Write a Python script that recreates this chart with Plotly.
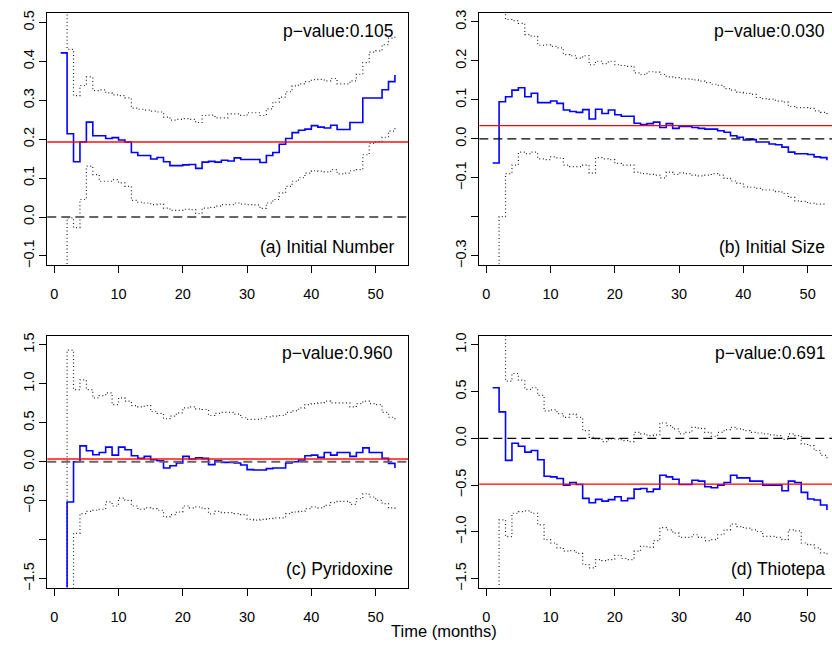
import plotly.graph_objects as go

# ---------------- data ----------------
months = list(range(1, 54))
x_ticks = [0, 10, 20, 30, 40, 50]

panel_titles = ["(a) Initial Number", "(b) Initial Size", "(c) Pyridoxine", "(d) Thiotepa"]
p_values = ["p\u2212value:0.105", "p\u2212value:0.030", "p\u2212value:0.960", "p\u2212value:0.691"]
const_est = [0.193, 0.034, 0.034, -0.490]

number_est = [0.422, 0.214, 0.142, 0.193, 0.244, 0.209, 0.209, 0.202, 0.204, 0.198,
              0.193, 0.166, 0.158, 0.158, 0.149, 0.153, 0.142, 0.132, 0.132, 0.134,
              0.135, 0.125, 0.141, 0.143, 0.141, 0.146, 0.144, 0.152, 0.148, 0.148,
              0.148, 0.140, 0.158, 0.166, 0.187, 0.202, 0.217, 0.223, 0.226, 0.235,
              0.231, 0.229, 0.236, 0.225, 0.225, 0.243, 0.243, 0.306, 0.306, 0.306,
              0.327, 0.348, 0.365]
number_upper = [0.8, 0.431, 0.312, 0.338, 0.360, 0.325, 0.327, 0.319, 0.314, 0.312,
                0.306, 0.280, 0.277, 0.275, 0.272, 0.270, 0.257, 0.249, 0.251, 0.253,
                0.251, 0.243, 0.261, 0.262, 0.255, 0.255, 0.265, 0.265, 0.261, 0.268,
                0.268, 0.261, 0.278, 0.295, 0.308, 0.322, 0.337, 0.342, 0.348, 0.353,
                0.354, 0.350, 0.356, 0.342, 0.342, 0.350, 0.367, 0.397, 0.424, 0.427,
                0.443, 0.460, 0.467]
number_lower = [-0.4, -0.002, -0.027, 0.045, 0.131, 0.109, 0.092, 0.092, 0.096, 0.088,
                0.079, 0.043, 0.038, 0.036, 0.032, 0.033, 0.023, 0.017, 0.017, 0.020,
                0.019, 0.009, 0.023, 0.025, 0.028, 0.032, 0.032, 0.036, 0.033, 0.032,
                0.031, 0.022, 0.036, 0.045, 0.062, 0.079, 0.092, 0.101, 0.113, 0.119,
                0.118, 0.116, 0.122, 0.111, 0.113, 0.119, 0.122, 0.160, 0.189, 0.193,
                0.205, 0.221, 0.232]

size_est = [-0.062, 0.095, 0.108, 0.125, 0.131, 0.108, 0.117, 0.093, 0.093, 0.097,
            0.091, 0.074, 0.070, 0.068, 0.075, 0.051, 0.076, 0.065, 0.074, 0.062,
            0.058, 0.058, 0.040, 0.037, 0.039, 0.043, 0.029, 0.039, 0.027, 0.032,
            0.032, 0.029, 0.027, 0.025, 0.025, 0.021, 0.017, 0.008, 0.004, -0.003,
            -0.002, -0.008, -0.008, -0.013, -0.015, -0.021, -0.034, -0.038, -0.038, -0.040,
            -0.046, -0.048, -0.055]
size_upper = [0.6, 0.45, 0.306, 0.303, 0.296, 0.267, 0.263, 0.240, 0.241, 0.237,
              0.233, 0.216, 0.213, 0.207, 0.213, 0.190, 0.199, 0.193, 0.199, 0.190,
              0.188, 0.186, 0.169, 0.165, 0.172, 0.171, 0.165, 0.159, 0.157, 0.154,
              0.154, 0.151, 0.148, 0.144, 0.140, 0.137, 0.129, 0.125, 0.119, 0.117,
              0.114, 0.106, 0.103, 0.102, 0.097, 0.094, 0.083, 0.080, 0.080, 0.078,
              0.072, 0.068, 0.063]
size_lower = [-0.6, -0.199, -0.089, -0.067, -0.034, -0.038, -0.034, -0.051, -0.053, -0.046,
              -0.049, -0.067, -0.071, -0.071, -0.067, -0.088, -0.048, -0.051, -0.053, -0.063,
              -0.067, -0.067, -0.085, -0.089, -0.091, -0.093, -0.100, -0.085, -0.091, -0.087,
              -0.089, -0.093, -0.095, -0.093, -0.089, -0.093, -0.101, -0.108, -0.114, -0.123,
              -0.124, -0.127, -0.131, -0.131, -0.135, -0.140, -0.150, -0.159, -0.160, -0.165,
              -0.167, -0.167, -0.167]

pyridoxine_est = [-3.0, -0.516, 0.000, 0.203, 0.140, 0.089, 0.118, 0.187, 0.085, 0.187,
                  0.153, 0.077, 0.043, 0.068, 0.026, 0.013, -0.081, -0.051, -0.017, 0.068,
                  0.034, 0.051, 0.043, -0.038, 0.013, -0.008, -0.008, -0.017, -0.042, -0.102,
                  -0.106, -0.106, -0.089, -0.081, -0.081, -0.017, 0.000, 0.021, 0.077, 0.085,
                  0.055, 0.118, 0.085, 0.118, 0.118, 0.068, 0.118, 0.178, 0.118, 0.118,
                  0.043, -0.021, -0.081]
pyridoxine_upper = [-1.8, 1.432, 0.924, 1.051, 0.924, 0.818, 0.848, 0.882, 0.733, 0.818,
                    0.776, 0.720, 0.703, 0.720, 0.644, 0.619, 0.551, 0.585, 0.627, 0.690,
                    0.703, 0.678, 0.670, 0.593, 0.620, 0.632, 0.632, 0.610, 0.564, 0.542,
                    0.542, 0.551, 0.576, 0.585, 0.593, 0.632, 0.653, 0.690, 0.733, 0.746,
                    0.754, 0.776, 0.754, 0.754, 0.754, 0.703, 0.746, 0.776, 0.746, 0.733,
                    0.632, 0.570, 0.521]
pyridoxine_lower = [-4.0, -3.0, -0.919, -0.665, -0.636, -0.623, -0.610, -0.516, -0.568, -0.466,
                    -0.496, -0.568, -0.610, -0.593, -0.602, -0.623, -0.708, -0.680, -0.645, -0.568,
                    -0.593, -0.581, -0.602, -0.670, -0.636, -0.653, -0.653, -0.665, -0.680, -0.741,
                    -0.750, -0.741, -0.729, -0.720, -0.720, -0.665, -0.645, -0.636, -0.602, -0.581,
                    -0.593, -0.559, -0.525, -0.508, -0.508, -0.547, -0.475, -0.411, -0.453, -0.496,
                    -0.538, -0.593, -0.623]

thiotepa_est = [0.541, 0.283, -0.236, -0.052, -0.084, -0.148, -0.130, -0.229, -0.405, -0.412,
                -0.430, -0.500, -0.472, -0.493, -0.642, -0.688, -0.653, -0.671, -0.655, -0.624,
                -0.667, -0.642, -0.543, -0.536, -0.571, -0.543, -0.395, -0.412, -0.437, -0.493,
                -0.493, -0.448, -0.458, -0.518, -0.529, -0.500, -0.472, -0.395, -0.423, -0.423,
                -0.458, -0.458, -0.500, -0.500, -0.500, -0.560, -0.458, -0.472, -0.578, -0.649,
                -0.660, -0.713, -0.766]
thiotepa_upper = [1.5, 1.3, 0.611, 0.693, 0.622, 0.523, 0.541, 0.459, 0.294, 0.304,
                  0.265, 0.223, 0.258, 0.223, 0.082, 0.011, -0.007, -0.036, -0.007, -0.007,
                  -0.025, -0.036, 0.064, 0.047, 0.029, 0.036, 0.164, 0.135, 0.100, 0.047,
                  0.064, 0.118, 0.107, 0.064, 0.022, 0.064, 0.093, 0.118, 0.100, 0.082,
                  0.064, 0.057, 0.047, 0.036, 0.029, -0.011, 0.047, 0.029, -0.060, -0.078,
                  -0.130, -0.183, -0.219]
thiotepa_lower = [-2.0, -0.872, -1.050, -0.801, -0.783, -0.776, -0.801, -0.925, -1.084, -1.119,
                  -1.172, -1.207, -1.200, -1.231, -1.349, -1.384, -1.296, -1.307, -1.296, -1.250,
                  -1.285, -1.296, -1.207, -1.154, -1.165, -1.094, -0.954, -0.978, -1.014, -1.059,
                  -1.059, -1.031, -1.059, -1.094, -1.084, -1.031, -0.978, -0.918, -0.943, -0.960,
                  -0.978, -0.996, -1.049, -1.049, -1.059, -1.084, -0.978, -0.989, -1.119, -1.137,
                  -1.172, -1.225, -1.243]

y_tickvals = [[-0.1, 0.0, 0.1, 0.2, 0.3, 0.4, 0.5],
              [-0.3, -0.2, -0.1, 0.0, 0.1, 0.2, 0.3],
              [-1.5, -1.0, -0.5, 0.0, 0.5, 1.0, 1.5],
              [-1.5, -1.0, -0.5, 0.0, 0.5, 1.0]]
y_ticktext = [["\u22120.1", "0.0", "0.1", "0.2", "0.3", "0.4", "0.5"],
              ["\u22120.3", "", "\u22120.1", "0.0", "0.1", "0.2", "0.3"],
              ["\u22121.5", "", "\u22120.5", "0.0", "0.5", "1.0", "1.5"],
              ["\u22121.5", "\u22121.0", "\u22120.5", "0.0", "0.5", "1.0"]]

estimates = [number_est, size_est, pyridoxine_est, thiotepa_est]
uppers = [number_upper, size_upper, pyridoxine_upper, thiotepa_upper]
lowers = [number_lower, size_lower, pyridoxine_lower, thiotepa_lower]

# ---------------- layout geometry (pixels) ----------------
W, H = 832, 645
x_domains_px = [(47.3, 408.3), (479.3, 832.0), (47.3, 408.3), (479.3, 832.0)]
y_domains_px = [(9.7, 264.3), (9.7, 264.3), (335.7, 590.0), (335.7, 590.0)]
x_ranges = [[-1.08, 55.08], [-1.08, 53.79], [-1.08, 55.08], [-1.08, 53.79]]
y_ranges = [[-0.1229, 0.5254], [-0.3228, 0.3236], [-1.614, 1.618], [-1.595, 1.0985]]
pv_pos = [(395.0, 28.3), (827.0, 28.3), (395.0, 353.3), (826.5, 353.3)]
title_pos = [(396.0, 246.7), (827.0, 246.7), (395.0, 571.7), (826.5, 571.7)]

FONT = "Liberation Sans, Arial, Helvetica, sans-serif"

fig = go.Figure()
layout = dict(width=W, height=H, margin=dict(l=0, r=0, t=0, b=0),
              paper_bgcolor="white", plot_bgcolor="white",
              font=dict(family=FONT, color="black", size=14),
              showlegend=False, shapes=[], annotations=[])

for i in range(4):
    sfx = "" if i == 0 else str(i + 1)
    xa, ya = "x" + sfx, "y" + sfx
    left_col = i in (0, 2)
    # step curves
    fig.add_trace(go.Scatter(x=months, y=uppers[i], mode="lines", line_shape="hv",
                             line=dict(color="#222222", width=1.2, dash="1px,2.6px"),
                             xaxis=xa, yaxis=ya, hoverinfo="skip"))
    fig.add_trace(go.Scatter(x=months, y=lowers[i], mode="lines", line_shape="hv",
                             line=dict(color="#222222", width=1.2, dash="1px,2.6px"),
                             xaxis=xa, yaxis=ya, hoverinfo="skip"))
    fig.add_trace(go.Scatter(x=months, y=estimates[i], mode="lines", line_shape="hv",
                             line=dict(color="#0000ff", width=1.6),
                             xaxis=xa, yaxis=ya, hoverinfo="skip"))
    x0, x1 = x_domains_px[i]
    y0, y1 = y_domains_px[i]
    layout["xaxis" + sfx] = dict(domain=[x0 / W, x1 / W], range=x_ranges[i], anchor=ya,
                                 showline=True, linecolor="black", linewidth=1, mirror=True,
                                 ticks="outside", ticklen=7, tickcolor="black", tickwidth=1,
                                 tickvals=x_ticks, showgrid=False, zeroline=False,
                                 tickfont=dict(size=14.5), ticklabelstandoff=9)
    layout["yaxis" + sfx] = dict(domain=[1 - y1 / H, 1 - y0 / H], range=y_ranges[i], anchor=xa,
                                 showline=True, linecolor="black", linewidth=1,
                                 mirror=True if left_col else False,
                                 ticks="outside", ticklen=7, tickcolor="black", tickwidth=1,
                                 tickvals=y_tickvals[i], ticktext=y_ticktext[i], tickangle=-90,
                                 showgrid=False, zeroline=False,
                                 tickfont=dict(size=14.5), ticklabelstandoff=0)
    # constant estimate (red) and zero (dashed)
    layout["shapes"].append(dict(type="line", xref=xa + " domain", yref=ya, x0=0, x1=1,
                                 y0=const_est[i], y1=const_est[i],
                                 line=dict(color="rgba(255,0,0,0.7)" if left_col else "#ff0000",
                                           width=2 if left_col else 1.3)))
    layout["shapes"].append(dict(type="line", xref=xa + " domain", yref=ya, x0=0, x1=1,
                                 y0=0, y1=0,
                                 line=dict(color="#666666" if left_col else "#000000",
                                           width=2 if left_col else 1.3, dash="9px,5px")))
    px, py = pv_pos[i]
    layout["annotations"].append(dict(text=p_values[i], xref="paper", yref="paper",
                                      x=px / W, y=1 - py / H, xanchor="right", yanchor="middle",
                                      showarrow=False, font=dict(size=17.5)))
    tx, ty = title_pos[i]
    layout["annotations"].append(dict(text=panel_titles[i], xref="paper", yref="paper",
                                      x=tx / W, y=1 - ty / H, xanchor="right", yanchor="middle",
                                      showarrow=False, font=dict(size=17.5)))

layout["annotations"].append(dict(text="Time (months)", xref="paper", yref="paper",
                                  x=444 / W, y=1 - 634 / H, xanchor="center", yanchor="middle",
                                  showarrow=False, font=dict(size=16.5)))

fig.update_layout(**layout)
fig.write_html("out.html", config={"displayModeBar": False},
               post_script="document.body.style.margin='0';document.body.style.overflow='hidden';")
